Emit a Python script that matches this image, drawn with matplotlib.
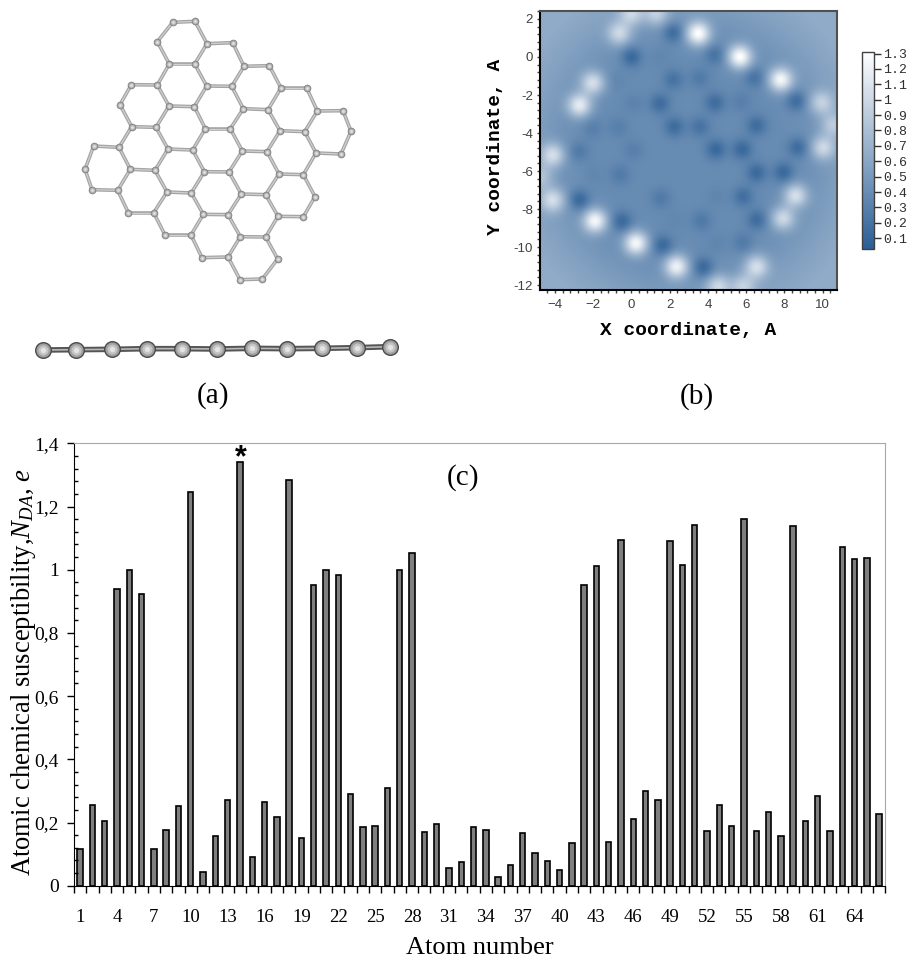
import numpy as np
from matplotlib import pyplot as plt
from matplotlib.colors import LinearSegmentedColormap
from matplotlib.ticker import FixedLocator, MultipleLocator, FuncFormatter

W, H = 909, 959

# (c) atomic chemical susceptibility per atom
atom_numbers = list(range(1, 67))
susceptibility = [
    0.116, 0.256, 0.204, 0.940, 0.998, 0.922, 0.116, 0.175, 0.253, 1.246, 0.043,
    0.157, 0.270, 1.340, 0.091, 0.266, 0.218, 1.284, 0.152, 0.952, 1.000, 0.983,
    0.291, 0.186, 0.189, 0.309, 1.000, 1.053, 0.169, 0.195, 0.055, 0.075, 0.186,
    0.175, 0.028, 0.064, 0.166, 0.104, 0.078, 0.049, 0.134, 0.952, 1.013, 0.139,
    1.094, 0.210, 0.300, 0.270, 1.091, 1.015, 1.140, 0.172, 0.256, 0.189, 1.162,
    0.172, 0.233, 0.157, 1.137, 0.204, 0.283, 0.172, 1.071, 1.034, 1.037, 0.227,
]
y_major = [0, 0.2, 0.4, 0.6, 0.8, 1.0, 1.2, 1.4]
y_major_labels = ['0', '0,2', '0,4', '0,6', '0,8', '1', '1,2', '1,4']

# (a) flake seen from above, read in a 900x900 frame
atom_x = [308, 375, 262, 411, 488, 298, 374, 522, 598, 184, 262, 410, 485, 633, 710,
          150, 297, 373, 520, 594, 742, 819, 185, 258, 406, 481, 630, 704, 843,
          71, 147, 294, 368, 517, 591, 738, 813, 45, 181, 255, 403, 477, 627, 700,
          66, 143, 291, 364, 514, 587, 735, 175, 251, 400, 474, 624, 700,
          285, 363, 511, 587, 396, 474, 623, 510, 577]
atom_y = [67, 64, 125, 131, 128, 192, 192, 199, 197, 254, 255, 258, 259, 264, 264,
          314, 318, 320, 326, 329, 333, 332, 380, 382, 386, 386, 392, 395, 394,
          438, 442, 447, 450, 453, 455, 459, 462, 508, 508, 511, 515, 516, 522, 524,
          569, 571, 576, 579, 582, 584, 590, 638, 638, 643, 644, 649, 650,
          705, 705, 710, 711, 773, 771, 777, 839, 837]

# (a) flake seen from the side, read in a 1170x180 frame
side_x = [70, 168, 275, 380, 485, 590, 695, 800, 905, 1010, 1110]
side_y = [90, 89, 88, 86, 86, 87, 85, 86, 85, 83, 80]

# (b) map spots: position in angstrom and level
spot_x = [-0.64, 3.50, 5.68, 7.82, 9.95, 10.56, 10.03, 8.60, 7.94, 6.55, 4.54, 2.36,
          0.24, -1.91, -4.12, -4.12, -4.78, -2.73, -2.03, 0.00, 1.30, 5.85,
          2.19, 0.00, 4.37, 6.46, 8.64, 8.73, 7.98, 6.58, 5.85, 3.76, 1.63, -0.51,
          -2.73, -2.78, -2.08, 2.19, 3.58, 1.49, 4.37, 5.76, -0.69, 2.24, 3.58, 6.55,
          0.10, 4.42, 5.80, 6.55, -0.60, -2.00, 1.54, 5.85, 4.45, 3.67, 2.28, 4.49,
          -0.86, 0.10, 1.49]
spot_y = [1.25, 1.25, 0.02, -1.18, -2.40, -3.58, -4.77, -7.30, -8.50, -11.04, -12.09, -11.04,
          -9.80, -8.63, -7.53, -5.16, -6.30, -2.53, -1.35, 2.30, 2.30, -12.09,
          1.30, 0.02, 0.14, -1.07, -2.30, -4.77, -6.07, -8.58, -9.80, -11.09, -9.93, -8.67,
          -7.53, -4.98, -3.75, -1.18, -1.10, -2.44, -2.40, -2.35, -3.70, -3.67, -3.67, -3.60,
          -4.90, -4.86, -4.86, -6.09, -6.20, -6.20, -7.44, -7.35, -7.35, -8.63, -8.58, -9.86,
          -1.20, -2.44, 0.10]
spot_level = [1.00, 1.30, 1.30, 1.25, 0.95, 0.90, 1.00, 1.05, 1.00, 1.05, 1.00, 1.20,
              1.25, 1.25, 1.05, 1.05, 0.85, 1.15, 1.05, 1.00, 0.95, 0.95,
              0.15, 0.12, 0.20, 0.20, 0.15, 0.15, 0.12, 0.15, 0.26, 0.12, 0.12, 0.12,
              0.12, 0.26, 0.30, 0.20, 0.26, 0.15, 0.15, 0.30, 0.30, 0.15, 0.20, 0.15,
              0.30, 0.12, 0.12, 0.13, 0.26, 0.36, 0.26, 0.17, 0.35, 0.25, 0.36, 0.35,
              0.36, 0.33, 0.36]
# background level against distance from the flake centre
bg_radius = [0, 5, 6.5, 8, 9.5, 13]
bg_level = [0.40, 0.40, 0.44, 0.55, 0.64, 0.65]
cbar_ticks = [0.1, 0.2, 0.3, 0.4, 0.5, 0.6, 0.7, 0.8, 0.9, 1.0, 1.1, 1.2, 1.3]


def px_rect(left, top, right, bottom):
    return [left / W, 1 - bottom / H, (right - left) / W, (bottom - top) / H]


def fig_text(x, y, s, **kw):
    fig.text(x / W, 1 - y / H, s, ha='center', va='center', **kw)


def draw_balls(ax, x, y, size, rim):
    # stacked discs give the shaded ball look
    ax.scatter(x, y, s=size, c=rim, linewidths=0, zorder=3)
    ax.scatter(x, y, s=size * 0.7, c='#a0a0a0', linewidths=0, zorder=4)
    ax.scatter(x, y, s=size * 0.35, c='#c4c4c4', linewidths=0, zorder=5)
    ax.scatter(x, y, s=size * 0.1, c='#e4e4e4', linewidths=0, zorder=6)


if __name__ == '__main__':
    plt.rcParams['font.family'] = 'Liberation Serif'
    plt.rcParams['mathtext.fontset'] = 'custom'
    plt.rcParams['mathtext.rm'] = 'Liberation Serif'
    plt.rcParams['mathtext.it'] = 'Liberation Serif:italic'
    plt.rcParams['axes.unicode_minus'] = False

    fig = plt.figure(figsize=(W / 100, H / 100), dpi=100)

    # top view
    ax_top = fig.add_axes(px_rect(70, 0, 370, 300))
    ax_top.set_xlim(0, 900)
    ax_top.set_ylim(900, 0)
    ax_top.axis('off')
    n_atoms = len(atom_x)
    for i in range(n_atoms):
        for j in range(i + 1, n_atoms):
            if np.hypot(atom_x[i] - atom_x[j], atom_y[i] - atom_y[j]) < 90:
                ax_top.plot([atom_x[i], atom_x[j]], [atom_y[i], atom_y[j]], color='#a4a4a4', lw=2.6, zorder=1)
                ax_top.plot([atom_x[i], atom_x[j]], [atom_y[i], atom_y[j]], color='#cfcfcf', lw=0.9, zorder=2)
    draw_balls(ax_top, atom_x, atom_y, 30, '#7d7d7d')

    # side view
    ax_side = fig.add_axes(px_rect(20, 320, 410, 380))
    ax_side.set_xlim(0, 1170)
    ax_side.set_ylim(180, 0)
    ax_side.axis('off')
    ax_side.plot(side_x, side_y, color='#555555', lw=4.0, zorder=1)
    ax_side.plot(side_x, side_y, color='#b8b8b8', lw=1.2, zorder=2)
    draw_balls(ax_side, side_x, side_y, 150, '#4a4a4a')

    # charge map
    ax_map = fig.add_axes(px_rect(540, 11, 837, 290))
    xs = np.linspace(-4.78, 10.75, 400)
    ys = np.linspace(-12.26, 2.42, 400)
    gx, gy = np.meshgrid(xs, ys)
    field = np.interp(np.hypot(gx - 2.95, gy + 5.0), bg_radius, bg_level)
    for sx, sy, level in zip(spot_x, spot_y, spot_level):
        base = np.interp(np.hypot(sx - 2.95, sy + 5.0), bg_radius, bg_level)
        sigma = 0.44 if level > 0.6 else 0.38
        field += (level - base) * np.exp(-((gx - sx) ** 2 + (gy - sy) ** 2) / (2 * sigma ** 2))
    cmap = LinearSegmentedColormap.from_list('charge', ['#2b5e95', '#ffffff'])
    im = ax_map.imshow(field, origin='lower', extent=(-4.78, 10.75, -12.26, 2.42), aspect='auto',
                       cmap=cmap, vmin=0.03, vmax=1.31, interpolation='bilinear')
    ax_map.xaxis.set_major_locator(MultipleLocator(2))
    ax_map.yaxis.set_major_locator(MultipleLocator(2))
    ax_map.xaxis.set_minor_locator(MultipleLocator(0.4))
    ax_map.yaxis.set_minor_locator(MultipleLocator(0.4))
    ax_map.xaxis.set_major_formatter(FuncFormatter(lambda v, pos: f'{v:.0f}'.replace('-', '\u2212')))
    ax_map.tick_params(which='major', length=2.5, width=1, colors='#404040', labelsize=9.5,
                       labelfontfamily='Liberation Sans')
    ax_map.tick_params(axis='y', which='major', pad=2.5)
    ax_map.tick_params(axis='x', which='major', pad=4)
    ax_map.tick_params(which='minor', length=2, width=1, colors='#404040')
    for spine in ax_map.spines.values():
        spine.set_linewidth(1.5)
        spine.set_color('#505050')
    ax_map.spines['left'].set_color('black')
    ax_map.spines['bottom'].set_color('black')
    fig_text(688, 330, 'X coordinate, A', family='Liberation Mono', weight='bold', fontsize=14)
    fig_text(495, 147, 'Y coordinate, A', family='Liberation Mono', weight='bold', fontsize=14, rotation=90)

    ax_cb = fig.add_axes(px_rect(862, 52, 874, 249))
    cb = fig.colorbar(im, cax=ax_cb, ticks=cbar_ticks)
    cb.ax.yaxis.set_major_formatter(FuncFormatter(lambda v, pos: f'{v:g}'))
    cb.ax.tick_params(length=4.8, width=1, labelsize=9.5, pad=2, labelfontfamily='Liberation Mono', colors='#303030')
    cb.outline.set_edgecolor('#404040')
    cb.outline.set_linewidth(1)

    # bar chart
    ax = fig.add_axes(px_rect(74, 443.3, 885.3, 885.7))
    ax.bar(atom_numbers, susceptibility, width=0.44, color='#7f7f7f', edgecolor='black', linewidth=1.2)
    ax.set_xlim(0.5, 66.5)
    ax.set_ylim(0, 1.4)
    ax.spines['top'].set_color('#a8a8a8')
    ax.spines['right'].set_color('#a8a8a8')
    ax.set_yticks(y_major)
    ax.set_yticklabels(y_major_labels, fontsize=14)
    ax.yaxis.set_minor_locator(MultipleLocator(0.04))
    ax.tick_params(axis='y', which='major', length=5, width=1, pad=6)
    ax.tick_params(axis='y', which='minor', direction='in', length=3, width=1)
    # ticks sit between bars, labels under every third bar
    ax.xaxis.set_major_locator(FixedLocator(np.arange(0.5, 67)))
    ax.xaxis.set_minor_locator(FixedLocator(atom_numbers[::3]))
    ax.xaxis.set_major_formatter(FuncFormatter(lambda v, pos: ''))
    ax.xaxis.set_minor_formatter(FuncFormatter(lambda v, pos: f'{v:.0f}'))
    ax.tick_params(axis='x', which='major', length=5, width=1)
    ax.tick_params(axis='x', which='minor', length=0, pad=17, labelsize=13.5)
    ax.text(14.1, 1.352, '*', family='Liberation Sans', weight='bold', fontsize=22, ha='center', va='center')

    fig_text(24, 672, 'Atomic chemical susceptibility,$N_{DA}$, $e$', fontsize=19.2, rotation=90)
    fig_text(480, 948, 'Atom number', fontsize=19)
    fig_text(213, 396, '(a)', fontsize=21)
    fig_text(697, 397, '(b)', fontsize=21)
    fig_text(463, 478, '(c)', fontsize=21)

    fig.savefig('out.png', dpi=100)
    plt.close(fig)
